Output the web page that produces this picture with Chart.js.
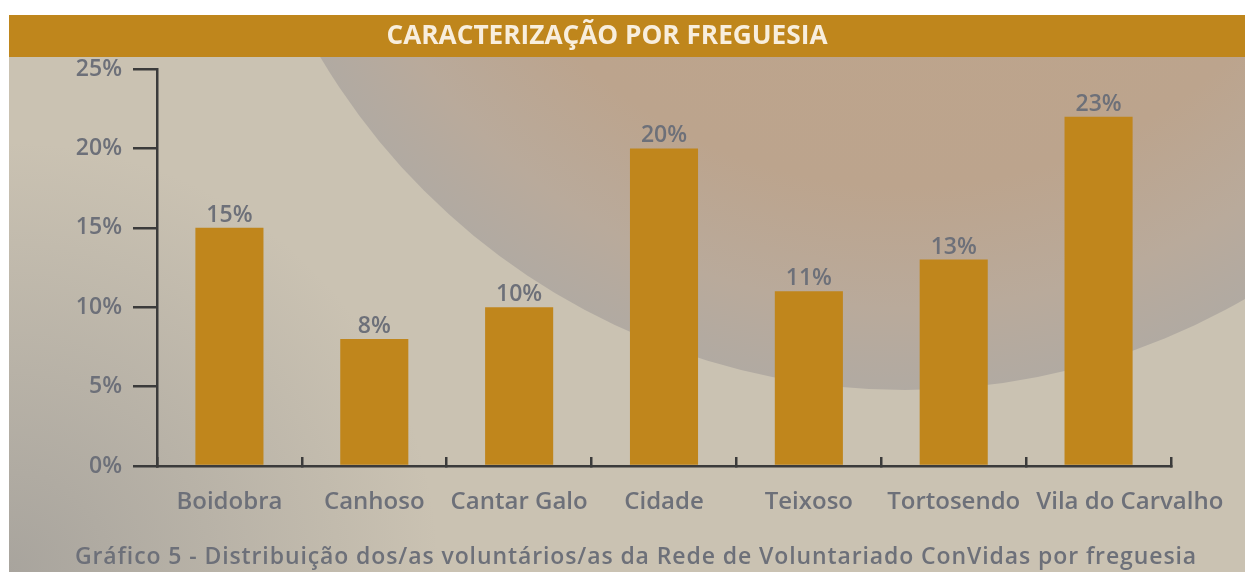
<!DOCTYPE html>
<html><head><meta charset="utf-8">
<script src="https://cdn.jsdelivr.net/npm/chart.js@4.4.1/dist/chart.umd.min.js"></script>
<style>html,body{margin:0;padding:0;background:#fff;overflow:hidden}#wrap{width:1245px;height:572px;position:relative}</style>
</head><body><div id="wrap"><canvas id="c" width="1245" height="572"></canvas></div>
<script>
const titleText = 'CARACTERIZAÇÃO POR FREGUESIA';
const captionText = 'Gráfico 5 - Distribuição dos/as voluntários/as da Rede de Voluntariado ConVidas por freguesia';
const categories = ['Boidobra', 'Canhoso', 'Cantar Galo', 'Cidade', 'Teixoso', 'Tortosendo', 'Vila do Carvalho'];
const values = [15, 8, 10, 20, 11, 13, 22];
const valueLabels = ['15%', '8%', '10%', '20%', '11%', '13%', '23%'];
const yTicks = [0, 5, 10, 15, 20, 25];

const GREY = '#6d7079';
const AXIS = '#3b3b3b';
const GOLD = '#c0861c';

const backdrop = {
  id: 'backdrop',
  beforeDraw(chart) {
    const ctx = chart.ctx, W = chart.width, H = chart.height;
    const px = 9, py = 57;
    ctx.save();
    ctx.fillStyle = '#ffffff'; ctx.fillRect(0, 0, W, H);
    ctx.fillStyle = '#cac2b2'; ctx.fillRect(px, py, W - px, H - py);
    let g = ctx.createRadialGradient(px, H, 0, px, H, 430);
    g.addColorStop(0, 'rgba(150,148,146,0.65)');
    g.addColorStop(1, 'rgba(150,148,146,0)');
    ctx.fillStyle = g; ctx.fillRect(px, py, W - px, H - py);
    ctx.save();
    ctx.beginPath(); ctx.rect(px, py, W - px, H - py); ctx.clip();
    ctx.beginPath(); ctx.arc(905, -290, 680, 0, Math.PI * 2); ctx.clip();
    g = ctx.createRadialGradient(905, -290, 0, 905, -290, 680);
    g.addColorStop(0, '#bfa58b');
    g.addColorStop(0.7, '#bca48d');
    g.addColorStop(0.88, '#b9aa9b');
    g.addColorStop(1, '#b1aaa2');
    ctx.fillStyle = g; ctx.fillRect(px, py, W - px, H - py);
    ctx.restore();
    ctx.fillStyle = '#bf861c'; ctx.fillRect(px, 15, W - px, 42);
    ctx.restore();
  },
  afterDatasetsDraw(chart) {
    const ctx = chart.ctx;
    const meta = chart.getDatasetMeta(0);
    ctx.save();
    ctx.fillStyle = GREY;
    ctx.font = '600 23px "Open Sans"';
    ctx.textAlign = 'center';
    ctx.textBaseline = 'alphabetic';
    meta.data.forEach((bar, i) => {
      ctx.fillText(valueLabels[i], bar.x, bar.y - 6);
    });
    ctx.restore();
  },
  afterDraw(chart) {
    const ctx = chart.ctx;
    // category labels under the x axis, nudging a label right if it would touch its neighbour
    const xs = chart.scales.x;
    ctx.save();
    ctx.font = '600 24px "Open Sans"';
    ctx.fillStyle = GREY;
    ctx.textAlign = 'center';
    ctx.textBaseline = 'middle';
    let prevRight = -Infinity;
    categories.forEach((lab, i) => {
      const w = ctx.measureText(lab).width;
      let cx = xs.getPixelForValue(i);
      if (cx - w / 2 < prevRight + 16) cx = prevRight + 16 + w / 2;
      ctx.fillText(lab, cx, xs.bottom - 70);
      prevRight = cx + w / 2;
    });
    ctx.restore();

    ctx.save();
    ctx.font = '700 26px "Open Sans"';
    const w = ctx.measureText(titleText).width;
    ctx.translate(607, 37);
    ctx.scale(441 / w, 1);
    ctx.fillStyle = '#f8eedd';
    ctx.textAlign = 'center';
    ctx.textBaseline = 'middle';
    ctx.fillText(titleText, 0, 0);
    ctx.restore();

    ctx.save();
    ctx.font = '600 23px "Open Sans"';
    ctx.letterSpacing = '0.9px';
    ctx.fillStyle = GREY;
    ctx.textAlign = 'center';
    ctx.textBaseline = 'middle';
    ctx.fillText(captionText, 636, 557);
    ctx.restore();
  }
};

new Chart(document.getElementById('c'), {
  type: 'bar',
  data: {
    labels: categories,
    datasets: [{
      data: values,
      backgroundColor: GOLD,
      borderWidth: 0,
      barPercentage: 0.47,
      categoryPercentage: 1
    }]
  },
  options: {
    responsive: false,
    animation: false,
    devicePixelRatio: 1,
    layout: { padding: { top: 69, right: 74, bottom: 0, left: 0 } },
    plugins: { legend: { display: false }, tooltip: { enabled: false }, title: { display: false } },
    scales: {
      x: {
        grid: { offset: true, drawOnChartArea: false, drawTicks: true, tickLength: -9, color: AXIS, lineWidth: 2.5 },
        border: { display: true, color: AXIS, width: 2.5 },
        ticks: { display: false },
        afterFit(s) { s.height = 106; }
      },
      y: {
        min: 0, max: 25,
        afterBuildTicks(s) { s.ticks = yTicks.map(v => ({ value: v })); },
        grid: { drawOnChartArea: false, drawTicks: true, tickLength: 24, color: AXIS, lineWidth: 2.5 },
        border: { display: true, color: AXIS, width: 2.5 },
        ticks: { color: GREY, font: { family: 'Open Sans', size: 23, weight: '600' }, padding: 11, callback: v => v + '%' },
        afterFit(s) { s.width = 157; }
      }
    }
  },
  plugins: [backdrop]
});
</script>
</body></html>
